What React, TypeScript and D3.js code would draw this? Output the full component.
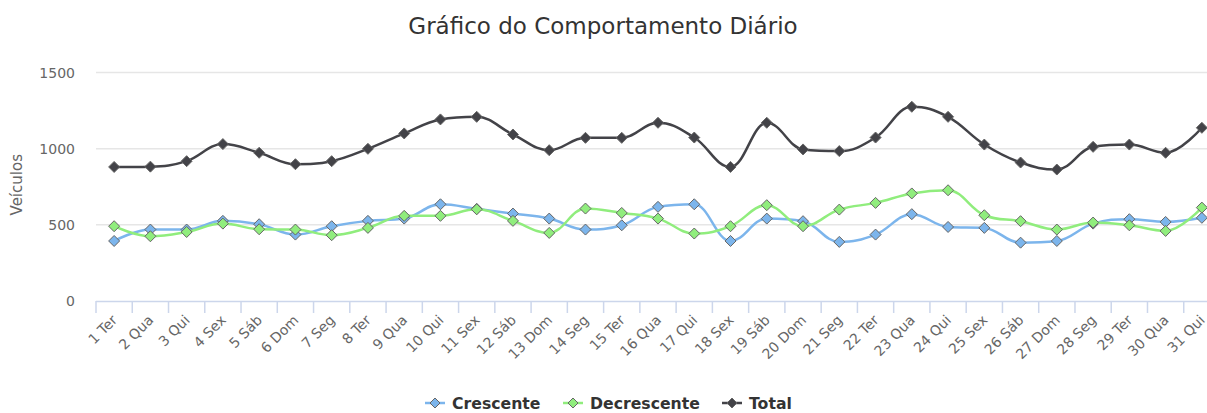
import React from 'react';
import * as d3 from 'd3';

const categories = [
  '1 Ter', '2 Qua', '3 Qui', '4 Sex', '5 Sáb', '6 Dom', '7 Seg', '8 Ter', '9 Qua', '10 Qui',
  '11 Sex', '12 Sáb', '13 Dom', '14 Seg', '15 Ter', '16 Qua', '17 Qui', '18 Sex', '19 Sáb', '20 Dom',
  '21 Seg', '22 Ter', '23 Qua', '24 Qui', '25 Sex', '26 Sáb', '27 Dom', '28 Seg', '29 Ter', '30 Qua', '31 Qui',
];

const crescente = [
  394, 469, 469, 526, 504, 436, 491, 526, 541, 635,
  605, 574, 541, 469, 497, 618, 635, 394, 541, 524,
  388, 436, 570, 486, 480, 383, 394, 508, 537, 519, 546,
];

const decrescente = [
  491, 425, 453, 508, 471, 469, 432, 480, 559, 559,
  602, 526, 447, 607, 578, 541, 443, 491, 629, 491,
  600, 644, 706, 727, 563, 524, 469, 515, 497, 460, 613,
];

const total = [
  880, 882, 918, 1030, 973, 898, 918, 999, 1100, 1192,
  1209, 1093, 990, 1071, 1071, 1170, 1073, 880, 1170, 995,
  984, 1073, 1275, 1209, 1027, 909, 863, 1012, 1027, 973, 1137,
];

const yTicks = [0, 500, 1000, 1500];

const seriesList = [
  { name: 'Crescente', data: crescente, color: '#7cb5ec' },
  { name: 'Decrescente', data: decrescente, color: '#90ed7d' },
  { name: 'Total', data: total, color: '#434348' },
];

// legend item start x (layout only)
const legendX = [425, 563, 722];

const W = 1207, H = 413;
const margin = { left: 96, right: -13, top: 72.5, bottom: 112 };
const font = '"DejaVu Sans", Verdana, sans-serif';

// highcharts-like spline path
function splinePath(pts: [number, number][]) {
  const smoothing = 1.5, denom = smoothing + 1;
  const ctrl = pts.map((p, i) => {
    if (i === 0 || i === pts.length - 1) return null;
    const [x, y] = p;
    const [lx, ly] = pts[i - 1];
    const [nx, ny] = pts[i + 1];
    const lcx = (smoothing * x + lx) / denom;
    let lcy = (smoothing * y + ly) / denom;
    const rcx = (smoothing * x + nx) / denom;
    let rcy = (smoothing * y + ny) / denom;
    let correction = 0;
    if (rcx !== lcx) correction = ((rcy - lcy) * (rcx - x)) / (rcx - lcx) + y - rcy;
    lcy += correction;
    rcy += correction;
    if (lcy > ly && lcy > y) { lcy = Math.max(ly, y); rcy = 2 * y - lcy; }
    else if (lcy < ly && lcy < y) { lcy = Math.min(ly, y); rcy = 2 * y - lcy; }
    if (rcy > ny && rcy > y) { rcy = Math.max(ny, y); lcy = 2 * y - rcy; }
    else if (rcy < ny && rcy < y) { rcy = Math.min(ny, y); lcy = 2 * y - rcy; }
    return { lcx, lcy, rcx, rcy };
  });
  const path = d3.path();
  pts.forEach((p, i) => {
    if (i === 0) { path.moveTo(p[0], p[1]); return; }
    const prev = pts[i - 1];
    const pc = ctrl[i - 1];
    const c = ctrl[i];
    path.bezierCurveTo(
      pc ? pc.rcx : prev[0], pc ? pc.rcy : prev[1],
      c ? c.lcx : p[0], c ? c.lcy : p[1],
      p[0], p[1]
    );
  });
  return path.toString();
}

const diamond = (cx: number, cy: number, r: number) =>
  `M${cx},${cy - r}L${cx + r},${cy}L${cx},${cy + r}L${cx - r},${cy}Z`;

export default function App() {
  const x = d3.scaleBand().domain(categories).range([margin.left, W - margin.right]);
  const y = d3.scaleLinear().domain([0, 1500]).range([H - margin.bottom, margin.top]);
  const cx = (c: string) => (x(c) as number) + x.bandwidth() / 2;
  const tickXs = [...categories.map((c) => x(c) as number), x.range()[1]];

  return (
    <svg width={W} height={H} style={{ position: 'absolute', left: 0, top: 0, background: '#fff' }} fontFamily={font}>
      <text x={603} y={34} textAnchor="middle" fontSize={23} fill="#333333">
        Gráfico do Comportamento Diário
      </text>

      {/* grid */}
      {yTicks.filter((t) => t > 0).map((t) => (
        <line key={t} x1={margin.left} x2={W} y1={y(t)} y2={y(t)} stroke="#e6e6e6" strokeWidth={1.5} />
      ))}
      {yTicks.map((t) => (
        <text key={t} x={75} y={y(t) + 5} textAnchor="end" fontSize={14} fill="#666666">
          {t}
        </text>
      ))}
      <text transform={`translate(22,${(y(0) + y(1500)) / 2 - 2}) rotate(-90)`} textAnchor="middle" fontSize={15} fill="#666666">
        Veículos
      </text>

      {/* x axis */}
      <line x1={margin.left} x2={W} y1={y(0) + 0.5} y2={y(0) + 0.5} stroke="#ccd6eb" strokeWidth={1.5} />
      {tickXs.map((tx, i) => (
        <line key={i} x1={tx} x2={tx} y1={y(0)} y2={y(0) + 12} stroke="#ccd6eb" strokeWidth={1.5} />
      ))}
      {categories.map((c) => (
        <text key={c} transform={`translate(${cx(c) + 4},${y(0) + 20}) rotate(-45)`} textAnchor="end" fontSize={14} fill="#666666">
          {c}
        </text>
      ))}

      {/* series */}
      {seriesList.map((s) => {
        const pts = s.data.map((v, i) => [cx(categories[i]), y(v)] as [number, number]);
        return (
          <g key={s.name}>
            <path d={splinePath(pts)} fill="none" stroke={s.color} strokeWidth={2.5} />
            {pts.map((p, i) => (
              <path key={i} d={diamond(p[0], p[1], 5.5)} fill={s.color} stroke="#666666" strokeWidth={1} />
            ))}
          </g>
        );
      })}

      {/* legend */}
      {seriesList.map((s, i) => (
        <g key={s.name} transform={`translate(${legendX[i]},403)`}>
          <line x1={0} x2={20} y1={0} y2={0} stroke={s.color} strokeWidth={2.5} />
          <path d={diamond(10, 0, 5)} fill={s.color} stroke="#666666" strokeWidth={1} />
          <text x={27} y={6} fontSize={15.7} fontWeight="bold" fill="#333333">
            {s.name}
          </text>
        </g>
      ))}
    </svg>
  );
}
